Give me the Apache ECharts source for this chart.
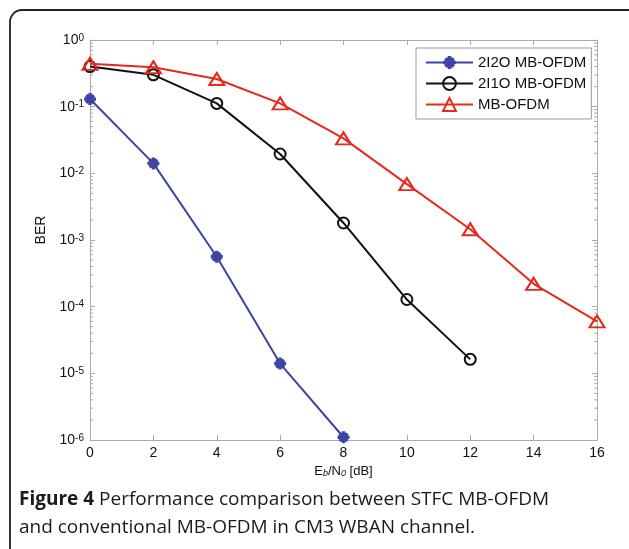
<!DOCTYPE html>
<html>
<head>
<meta charset="utf-8">
<script src="https://cdn.jsdelivr.net/npm/echarts@6/dist/echarts.min.js"></script>
<style>
html,body{margin:0;padding:0;background:#fff;}
#chart{width:629px;height:549px;}
</style>
</head>
<body>
<div id="chart"></div>
<script>
// ---- data ----
const snrDb = [0, 2, 4, 6, 8, 10, 12, 14, 16];
const seriesNames = ['2I2O MB-OFDM', '2I1O MB-OFDM', 'MB-OFDM'];
const ber2I2O = [0.13, 0.0141, 5.6e-4, 1.4e-5, 1.1e-6];
const ber2I1O = [0.40, 0.30, 0.112, 0.0195, 1.8e-3, 1.28e-4, 1.62e-5];
const berMB   = [0.44, 0.39, 0.26, 0.112, 0.0335, 6.9e-3, 1.45e-3, 2.2e-4, 6.0e-5];
const xTicks = [0, 2, 4, 6, 8, 10, 12, 14, 16];
const yDecades = [-6, -5, -4, -3, -2, -1, 0];
const captionBold = 'Figure 4';
const captionLine1 = ' Performance comparison between STFC MB-OFDM';
const captionLine2 = 'and conventional MB-OFDM in CM3 WBAN channel.';

const pairs = (ys) => ys.map((y, i) => [snrDb[i], y]);
const minorVals = [];
yDecades.slice(0, -1).forEach(d => { for (let m = 2; m <= 9; m++) minorVals.push([0, m * Math.pow(10, d)]); });

const FONT = 'Liberation Sans, Arial, sans-serif';
const AX = '#aaaaaa';
const BLUE = '#3c44a4';
const RED = '#e5291c';
const BLACK = '#111111';
const starPath = 'path://M3.6,0H6.4V3.6H10V6.4H6.4V10H3.6V6.4H0V3.6H3.6Z M0.8,2.8L2.8,0.8L5,3L7.2,0.8L9.2,2.8L7,5L9.2,7.2L7.2,9.2L5,7L2.8,9.2L0.8,7.2L3,5Z';

const yLabelRich = {
  b: {fontSize: 14, fontFamily: FONT, color: BLACK, lineHeight: 14, verticalAlign: 'bottom'},
  s: {fontSize: 10, fontFamily: FONT, color: BLACK, lineHeight: 10, verticalAlign: 'top', padding: [0, 0, 12, 0]}
};

const chart = echarts.init(document.getElementById('chart'), null, {renderer: 'canvas'});
const option = {
  animation: false,
  backgroundColor: '#fff',
  textStyle: {fontFamily: FONT},
  grid: {left: 90, right: 32, top: 40, bottom: 109, containLabel: false},
  legend: {
    data: seriesNames,
    orient: 'vertical',
    left: 416, top: 48,
    itemWidth: 47, itemHeight: 16, itemGap: 6,
    padding: [7, 5, 7, 9],
    borderColor: '#999', borderWidth: 1, backgroundColor: '#fff',
    textStyle: {fontSize: 15, fontFamily: FONT, color: BLACK}
  },
  xAxis: [{
    type: 'value', min: 0, max: 16, interval: 2, position: 'bottom',
    axisLine: {show: true, onZero: false, lineStyle: {color: AX, width: 1}},
    axisTick: {show: true, inside: true, length: 5, lineStyle: {color: AX}},
    axisLabel: {fontSize: 14, color: BLACK, margin: 6, fontFamily: FONT},
    splitLine: {show: false},
    name: '{n|E}{sub|b}{n|/N}{sub|0}{n| [dB]}',
    nameLocation: 'middle', nameGap: 25,
    nameTextStyle: {rich: {
      n: {fontSize: 13, fontFamily: FONT, color: BLACK},
      sub: {fontSize: 9, fontFamily: FONT, fontStyle: 'italic', color: BLACK, verticalAlign: 'bottom', lineHeight: 12}
    }}
  }, {
    type: 'value', min: 0, max: 16, interval: 2, position: 'top',
    axisLine: {show: true, onZero: false, lineStyle: {color: AX, width: 1}},
    axisTick: {show: true, inside: true, length: 5, lineStyle: {color: AX}},
    axisLabel: {show: false}, splitLine: {show: false}
  }],
  yAxis: [{
    type: 'log', logBase: 10, min: 1e-6, max: 1, splitNumber: 6, position: 'left',
    axisLine: {show: true, onZero: false, lineStyle: {color: AX, width: 1}},
    axisTick: {show: true, inside: true, length: 5, lineStyle: {color: AX}},
    axisLabel: {
      margin: 6,
      formatter: (v) => '{b|10}{s|' + Math.round(Math.log10(v)) + '}',
      rich: yLabelRich
    },
    splitLine: {show: false},
    name: 'BER', nameLocation: 'middle', nameGap: 42, nameRotate: 90,
    nameTextStyle: {fontSize: 14, fontFamily: FONT, color: BLACK, padding: [0, 0, 0, 20]}
  }, {
    type: 'log', logBase: 10, min: 1e-6, max: 1, splitNumber: 6, position: 'right',
    axisLine: {show: true, onZero: false, lineStyle: {color: AX, width: 1}},
    axisTick: {show: true, inside: true, length: 5, lineStyle: {color: AX}},
    axisLabel: {show: false}, splitLine: {show: false}
  }],
  series: [{
    type: 'custom', name: 'minorTicks', silent: true, clip: false,
    xAxisIndex: 0, yAxisIndex: 0, z: 1,
    data: minorVals,
    renderItem: (params, api) => {
      const l = api.coord([0, api.value(1)]);
      const r = api.coord([16, api.value(1)]);
      const st = {stroke: AX, lineWidth: 1};
      return {type: 'group', children: [
        {type: 'line', shape: {x1: l[0], y1: l[1], x2: l[0] + 3, y2: l[1]}, style: st},
        {type: 'line', shape: {x1: r[0] - 3, y1: r[1], x2: r[0], y2: r[1]}, style: st}
      ]};
    }
  }, {
    type: 'line', name: seriesNames[0], data: pairs(ber2I2O),
    symbol: starPath, symbolSize: 12, showAllSymbol: true,
    lineStyle: {color: BLUE, width: 2}, itemStyle: {color: BLUE}, z: 3
  }, {
    type: 'line', name: seriesNames[1], data: pairs(ber2I1O),
    symbol: 'circle', symbolSize: 11,
    lineStyle: {color: BLACK, width: 2},
    itemStyle: {color: 'rgba(255,255,255,0)', borderColor: BLACK, borderWidth: 2}, z: 4
  }, {
    type: 'line', name: seriesNames[2], data: pairs(berMB),
    symbol: 'triangle', symbolSize: [15, 12],
    lineStyle: {color: RED, width: 2},
    itemStyle: {color: 'rgba(255,255,255,0)', borderColor: RED, borderWidth: 2}, z: 5
  }],
  graphic: [{
    type: 'rect', silent: true, z: 0,
    shape: {x: 10, y: 10, width: 640, height: 580, r: 12},
    style: {fill: 'none', stroke: '#222', lineWidth: 1.8}
  }, {
    type: 'text', left: 19, top: 490, silent: true,
    style: {
      text: '{b|' + captionBold + '}{n|' + captionLine1 + '}\n{n|' + captionLine2 + '}',
      rich: {
        b: {fontFamily: 'Open Sans', fontWeight: 'bold', fontSize: 19, lineHeight: 28, fill: '#1a1a1a'},
        n: {fontFamily: 'Open Sans', fontSize: 19, lineHeight: 28, fill: '#1a1a1a'}
      }
    }
  }]
};
chart.setOption(option);
</script>
</body>
</html>
